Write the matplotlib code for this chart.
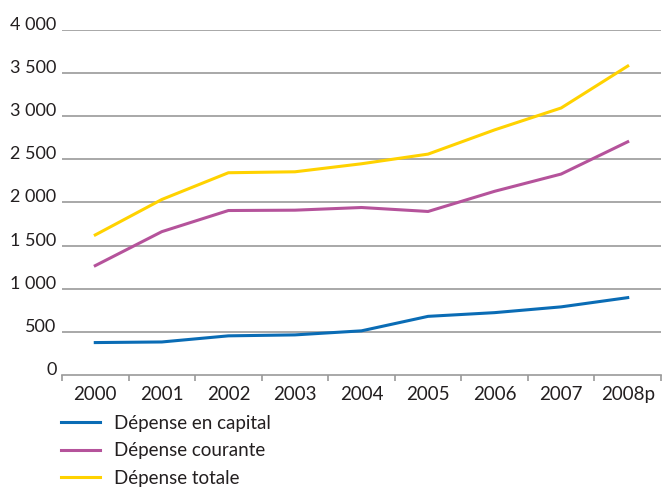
import matplotlib
matplotlib.use("Agg")
from matplotlib import pyplot as plt

plt.rcParams['font.family'] = ['Lato', 'DejaVu Sans']

years = ["2000", "2001", "2002", "2003", "2004", "2005", "2006", "2007", "2008p"]
capital = [376, 383, 454, 465, 512, 680, 723, 790, 897]
courante = [1268, 1662, 1907, 1911, 1942, 1896, 2130, 2330, 2704]
totale = [1624, 2035, 2345, 2356, 2449, 2561, 2842, 3096, 3582]

yticks = [0, 500, 1000, 1500, 2000, 2500, 3000, 3500, 4000]
ytick_labels = ["0", "500", "1 000", "1 500", "2 000", "2 500", "3 000", "3 500", "4 000"]

colors = ["#0a6cb5", "#b5539b", "#ffd200"]
grid_color = "#9a9a9a"
text_color = "#231f20"

fig = plt.figure(figsize=(6.62, 4.87), dpi=100)
ax = fig.add_axes([62/662, (487-375)/487, 599/662, 345/487])

x = list(range(len(years)))
ax.plot(x, capital, color=colors[0], lw=2.2, label="Dépense en capital")
ax.plot(x, courante, color=colors[1], lw=2.2, label="Dépense courante")
ax.plot(x, totale, color=colors[2], lw=2.2, label="Dépense totale")

ax.set_xlim(-0.5, len(years) - 0.5)
ax.set_ylim(0, 4000)

# horizontal gridlines
for v in yticks[1:]:
    ax.axhline(v, color=grid_color, lw=1.2, zorder=0)

ax.set_yticks(yticks)
ax.set_yticklabels(ytick_labels, fontsize=13, color=text_color)
for lab in ax.get_yticklabels():
    lab.set_va("baseline")
ax.tick_params(axis="y", length=0, pad=4)

ax.set_xticks(x)
ax.set_xticklabels(years, fontsize=13.5, color=text_color)
ax.tick_params(axis="x", which="major", length=0, pad=8)
ax.set_xticks([i - 0.5 for i in range(len(years) + 1)], minor=True)
ax.tick_params(axis="x", which="minor", length=4, width=1.2, color=grid_color, direction="out")

for s in ["top", "right", "left"]:
    ax.spines[s].set_visible(False)
ax.spines["bottom"].set_color(grid_color)
ax.spines["bottom"].set_linewidth(1.2)

fig.legend(loc="upper left", bbox_to_anchor=(46/662, 1 - 400/487), frameon=False,
           fontsize=13.5, handlelength=2.1, handletextpad=0.7, labelspacing=0.55,
           labelcolor=text_color, borderpad=0.3)

fig.savefig("out.png", dpi=100)
